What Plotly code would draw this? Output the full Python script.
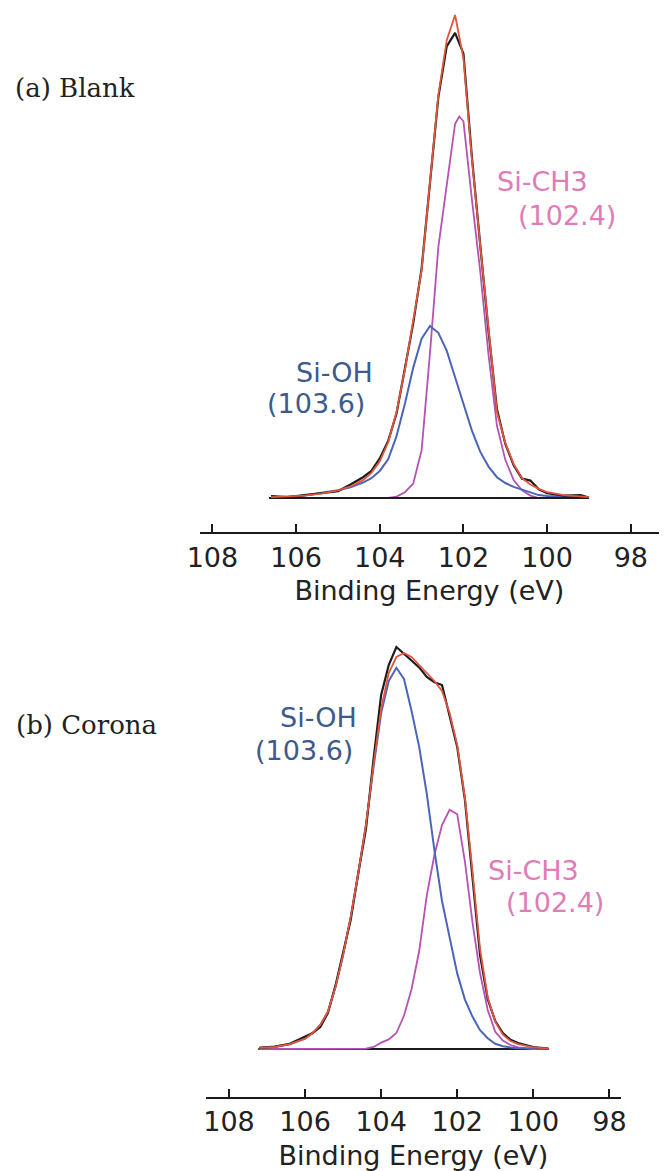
import plotly.graph_objects as go

W, H = 664, 1171

# ---------------- Panel (a) Blank ----------------
E_a = [106.6, 106.2, 105.8, 105.4, 105.0, 104.7, 104.4, 104.2, 104.0, 103.8,
       103.6, 103.4, 103.2, 103.0, 102.8, 102.6, 102.4, 102.2, 102.0, 101.8,
       101.6, 101.4, 101.2, 101.0, 100.8, 100.6, 100.4, 100.2, 100.0, 99.6,
       99.2, 99.0]
raw_a = [0.4, 0.2, 0.6, 1.0, 1.4, 2.8, 4.3, 5.6, 8.2, 11.8,
         17.5, 26.8, 36.2, 47.5, 65.8, 83.0, 93.5, 96.3, 92.0, 70.8,
         52.5, 34.5, 18.4, 11.2, 6.8, 4.0, 3.6, 1.8, 1.0, 0.5,
         0.6, 0.1]
fit_a = [0.2, 0.3, 0.5, 0.9, 1.6, 2.4, 3.7, 5.2, 7.6, 11.5,
         17.8, 26.5, 36.5, 47.2, 65.4, 83.4, 94.8, 100.0, 91.0, 70.4,
         52.4, 35.8, 17.8, 11.4, 7.0, 4.1, 2.8, 1.9, 1.2, 0.6,
         0.3, 0.2]
sioh_a = [0.1, 0.2, 0.5, 1.0, 1.6, 2.2, 3.2, 4.1, 5.6, 8.0,
          12.8, 19.5, 27.0, 33.0, 35.6, 34.2, 30.5, 25.0, 19.5, 14.0,
          9.6, 6.5, 4.3, 3.1, 2.3, 1.7, 1.1, 0.6, 0.4, 0.2,
          0.1, 0.1]
E_a_ch3 = [103.8, 103.6, 103.4, 103.2, 103.0, 102.8, 102.6, 102.4, 102.2, 102.1,
           102.0, 101.8, 101.6, 101.4, 101.2, 101.0, 100.8, 100.6, 100.4, 100.2]
sich3_a = [0.0, 0.3, 1.2, 3.0, 9.9, 30.0, 52.0, 64.6, 77.5, 79.0,
           78.0, 62.0, 47.0, 29.6, 15.0, 7.9, 3.7, 1.6, 0.5, 0.0]
base_a_E = [106.65, 99.0]
base_a_I = [0.0, 0.0]

# ---------------- Panel (b) Corona ----------------
E_b = [107.2, 106.8, 106.4, 106.0, 105.8, 105.6, 105.4, 105.2, 105.0, 104.8,
       104.6, 104.4, 104.2, 104.0, 103.8, 103.6, 103.4, 103.2, 103.0, 102.8,
       102.6, 102.4, 102.2, 102.0, 101.8, 101.6, 101.4, 101.2, 101.0, 100.8,
       100.6, 100.4, 100.0, 99.6]
raw_b = [0.3, 0.6, 1.3, 3.0, 4.0, 5.5, 9.0, 15.9, 24.0, 32.3,
         44.0, 55.0, 72.5, 88.5, 96.0, 100.5, 98.8, 97.0, 95.4, 93.0,
         91.7, 91.0, 83.5, 75.5, 62.5, 43.0, 23.5, 12.5, 7.0, 4.0,
         2.3, 1.5, 0.5, 0.1]
fit_b = [0.3, 0.5, 1.2, 2.6, 4.0, 6.0, 9.3, 15.5, 23.5, 33.0,
         44.0, 56.0, 71.0, 85.0, 94.0, 98.0, 99.0, 98.0, 96.0, 94.0,
         92.0, 89.5, 84.0, 76.0, 63.0, 44.5, 25.0, 13.0, 6.8, 3.6,
         2.0, 1.2, 0.4, 0.1]
sioh_b = [0.3, 0.5, 1.2, 2.6, 4.0, 6.0, 9.3, 15.5, 23.5, 33.0,
          44.0, 56.0, 70.5, 84.0, 92.0, 95.3, 92.5, 84.5, 75.5, 63.8,
          49.7, 37.0, 27.9, 18.9, 12.4, 8.1, 4.7, 2.7, 1.3, 0.7,
          0.4, 0.2, 0.1, 0.0]
sich3_b = [0.0, 0.0, 0.0, 0.0, 0.0, 0.0, 0.0, 0.0, 0.0, 0.0,
           0.0, 0.1, 0.5, 1.6, 2.4, 4.0, 8.3, 15.0, 24.5, 38.4,
           48.5, 56.0, 59.8, 58.7, 47.0, 31.7, 19.0, 9.8, 4.3, 2.1,
           1.0, 0.4, 0.0, 0.0]
base_b_E = [107.23, 99.61]
base_b_I = [0.0, 0.0]

tick_vals = [108, 106, 104, 102, 100, 98]
tick_text = ["108", "106", "104", "102", "100", "98"]

C_RAW = "#1c1c1c"
C_FIT = "#e2553f"
C_OH = "#4a66b8"
C_CH3 = "#b552b4"
T_OH = "#3d5a8c"
T_CH3 = "#e07cb6"

fig = go.Figure()

def line(x, y, color, width, xa, ya):
    fig.add_trace(go.Scatter(x=x, y=y, mode="lines", xaxis=xa, yaxis=ya,
                             line=dict(color=color, width=width),
                             hoverinfo="skip", showlegend=False))

# panel a
line(E_a_ch3, sich3_a, C_CH3, 1.8, "x", "y")
line(E_a, sioh_a, C_OH, 2.0, "x", "y")
line(base_a_E, base_a_I, C_RAW, 2.0, "x", "y")
line(E_a, raw_a, C_RAW, 2.2, "x", "y")
line(E_a, fit_a, C_FIT, 1.8, "x", "y")

# panel b
line(base_b_E, base_b_I, C_RAW, 2.0, "x2", "y2")
line(E_b, sich3_b, C_CH3, 1.8, "x2", "y2")
line(E_b, sioh_b, C_OH, 2.0, "x2", "y2")
line(E_b, raw_b, C_RAW, 2.2, "x2", "y2")
line(E_b, fit_b, C_FIT, 1.8, "x2", "y2")

def pdom(top_px, bottom_px):
    return [1 - bottom_px / H, 1 - top_px / H]

SANS = "DejaVu Sans"
axis_common = dict(
    showline=True, linecolor="#1a1a1a", linewidth=1.5,
    ticks="inside", ticklen=8, tickwidth=1.5, tickcolor="#1a1a1a",
    tickvals=tick_vals, ticktext=tick_text,
    showgrid=False, zeroline=False,
    tickfont=dict(family=SANS, size=27, color="#222222"),
    title_font=dict(family=SANS, size=27, color="#222222"),
    fixedrange=True,
)

fig.update_layout(
    width=W, height=H,
    margin=dict(l=0, r=0, t=0, b=0),
    paper_bgcolor="white", plot_bgcolor="white",
    showlegend=False,
    xaxis=dict(domain=[192 / W, 1.0], anchor="y", range=[108.302, 97.326],
               title=dict(text="Binding Energy (eV)", standoff=9),
               ticklabelstandoff=1, **axis_common),
    yaxis=dict(domain=pdom(10, 532), anchor="x", range=[-7.04, 101.04],
               visible=False, fixedrange=True),
    xaxis2=dict(domain=[198 / W, 625 / W], anchor="y2", range=[108.614, 97.693],
                title=dict(text="Binding Energy (eV)", standoff=11),
                ticklabelstandoff=0, **axis_common),
    yaxis2=dict(domain=pdom(630, 1097), anchor="x2", range=[-12.0, 104.75],
                visible=False, fixedrange=True),
)

def ann(text, xpx, ypx, color, family=SANS, size=27):
    fig.add_annotation(text=text, x=xpx / W, y=1 - ypx / H, xref="paper", yref="paper",
                       showarrow=False, xanchor="center", yanchor="middle",
                       font=dict(family=family, size=size, color=color))

SERIF = "DejaVu Serif"
ann("(a) Blank", 64, 88, "#222222", family=SERIF, size=26)
ann("(b) Corona", 76, 725, "#222222", family=SERIF, size=26)

ann("Si-CH3", 544, 182, T_CH3)
ann("(102.4)", 569, 215, T_CH3)
ann("Si-OH", 330, 372, T_OH)
ann("(103.6)", 311, 403, T_OH)

ann("Si-OH", 314, 718, T_OH)
ann("(103.6)", 299, 750, T_OH)
ann("Si-CH3", 535, 870, T_CH3)
ann("(102.4)", 557, 902, T_CH3)

fig.write_html("out.html")
